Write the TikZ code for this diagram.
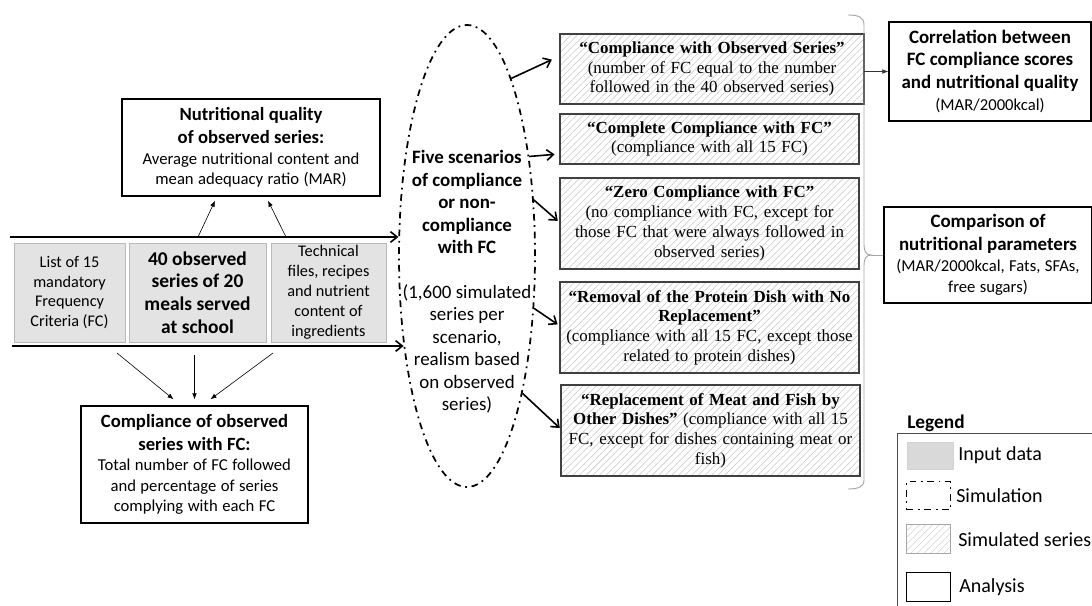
\documentclass[tikz,border=0pt]{standalone}
\usepackage{fontspec}
\setmainfont{Carlito}
\newfontfamily\tnr{Liberation Serif}
\usetikzlibrary{shapes.geometric,arrows.meta,patterns.meta,calc}
\begin{document}
\begin{tikzpicture}[x=0.75pt,y=-0.75pt,
  anabox/.style={draw=black,line width=1.1pt,align=center,inner sep=0pt,fill=white},
  inbox/.style={draw=gray!55,fill=gray!22,line width=0.7pt,align=center,inner sep=0pt,minimum height=74.25pt},
  simbox/.style={draw=black!75,line width=1.1pt,align=center,inner sep=0pt,
    pattern={Lines[angle=45,distance=3.5pt,line width=0.4pt]},pattern color=gray!45,
    font=\tnr\fontsize{12.7}{14.8}\selectfont},
  thickarr/.style={line width=1.2pt,-{Straight Barb[length=5pt,width=8pt]}},
  thinarr/.style={line width=0.45pt,-{Latex[length=4.5pt,width=3.5pt]}},
  simline/.style={line width=1.3pt,dash pattern=on 5pt off 3.5pt on 1.3pt off 3.5pt},
  legtext/.style={font=\fontsize{15}{18}\selectfont,anchor=west,inner sep=0pt},
]
\useasboundingbox (0,0) rectangle (1092,606);

% ---------- analysis: nutritional quality ----------
\node[anabox,minimum width=193.5pt,minimum height=72.75pt,text width=192pt] (nutq) at (251,147.5)
 {{\bfseries\fontsize{14}{17.2}\selectfont Nutritional quality\\of observed series:\par}
  \fontsize{12.5}{15.2}\selectfont Average nutritional content and\\mean adequacy ratio (MAR)\par};

% ---------- input data ----------
\node[inbox,minimum width=83.25pt,font=\fontsize{12.2}{14.8}\selectfont] (in1) at (69.5,292.5)
 {List of 15\\mandatory\\Frequency\\Criteria (FC)};
\node[inbox,minimum width=102.75pt,font=\bfseries\fontsize{14.6}{17}\selectfont] (in2) at (197.5,292.5)
 {40 observed\\series of 20\\meals served\\at school};
\node[inbox,minimum width=86.25pt,font=\fontsize{12.2}{15}\selectfont] (in3) at (328.5,292.5)
 {Technical\\files, recipes\\and nutrient\\content of\\ingredients};

% ---------- compliance of observed series ----------
\node[anabox,minimum width=170.25pt,minimum height=87.75pt,text width=169pt] (comp) at (194.5,464.5)
 {{\bfseries\fontsize{14}{17.2}\selectfont Compliance of observed\\series with FC:\par}
  \fontsize{12.5}{15.4}\selectfont Total number of FC followed\\and percentage of series\\complying with each FC\par};

% ---------- simulation ellipse ----------
\node[ellipse,draw,simline,minimum width=102pt,minimum height=346.5pt,inner sep=0pt] (ell) at (467,256) {};
\node[align=center,font=\bfseries\fontsize{14.2}{16.9}\selectfont,inner sep=0pt] (ellt1) at (467,202)
 {Five scenarios\\of compliance\\or non-\\compliance\\with FC};
\node[align=center,font=\fontsize{14.2}{16.9}\selectfont,inner sep=0pt] (ellt2) at (467,349)
 {(1,600 simulated\\series per\\scenario,\\realism based\\on observed\\series)};

% ---------- simulated series ----------
\node[simbox,minimum width=228pt,minimum height=52.5pt,text width=226pt] (sA) at (712,69)
 {\textbf{“Compliance with Observed Series”}\\(number of FC equal to the number\\followed in the 40 observed series)\par};
\node[simbox,minimum width=224.25pt,minimum height=37.5pt,text width=222pt] (sB) at (709.5,139)
 {\textbf{“Complete Compliance with FC”}\\(compliance with all 15 FC)\par};
\node[simbox,minimum width=224.25pt,minimum height=68.25pt,text width=222pt] (sC) at (709.5,223.5)
 {\textbf{“Zero Compliance with FC”}\\(no compliance with FC, except for\\those FC that were always followed in\\observed series)\par};
\node[simbox,minimum width=224.25pt,minimum height=68.25pt,text width=222pt] (sD) at (709.5,327.5)
 {\textbf{“Removal of the Protein Dish with No\\Replacement”}\\(compliance with all 15 FC, except those\\related to protein dishes)\par};
\node[simbox,minimum width=224.25pt,minimum height=68.25pt,text width=222pt] (sE) at (710.5,430.5)
 {\textbf{“Replacement of Meat and Fish by\\Other Dishes”} (compliance with all 15\\FC, except for dishes containing meat or\\fish)\par};

% ---------- analysis boxes on the right ----------
\node[anabox,minimum width=151.5pt,minimum height=74.25pt,text width=151pt] (corr) at (990,71.5)
 {{\bfseries\fontsize{14.2}{16.9}\selectfont Correlation between\\FC compliance scores\\and nutritional quality\par}
  \fontsize{12.5}{16.9}\selectfont(MAR/2000kcal)\par};
\node[anabox,minimum width=156pt,minimum height=72pt,text width=155pt] (cmpn) at (988,255)
 {{\bfseries\fontsize{14.2}{16.9}\selectfont Comparison of\\nutritional parameters\par}
  \fontsize{12.5}{16}\selectfont(MAR/2000kcal, Fats, SFAs,\\free sugars)\par};

% ---------- brace ----------
\coordinate (bpt) at (871,255);
\coordinate (bcorr) at (864,71.5);
\draw[gray!70,line width=0.7pt] (848,15) .. controls (858,15) and (864,17) .. (864,25)
  -- (864,245) .. controls (864,251) and (866,255) .. (bpt)
  .. controls (866,255) and (864,259) .. (864,265)
  -- (864,480) .. controls (864,487) and (858,489) .. (848,489);
\draw[gray!70,line width=0.7pt] (bpt) -- (cmpn.west);
\draw[thinarr,black!80] (bcorr) -- (corr.west);

% ---------- main horizontal arrows ----------
\coordinate (htop) at (10,237);
\coordinate (hbot) at (12,346);
\draw[thickarr] (htop) -- (htop -| ell.164);
\draw[thickarr] (hbot) -- (hbot -| ell.235);

% ---------- thin arrows ----------
\coordinate (u1) at (198,237);
\coordinate (u2) at (286,237);
\draw[thinarr] (u1) -- ([xshift=-27pt,yshift=-3pt]nutq.south);
\draw[thinarr] (u2) -- ([xshift=12.75pt,yshift=-3pt]nutq.south);
\coordinate (d1) at (117,353);
\coordinate (d2) at (194.5,355);
\coordinate (d3) at (273,353);
\draw[thinarr] (d1) -- ([xshift=-15.75pt,yshift=4.5pt]comp.north);
\draw[thinarr] (d2) -- ([yshift=4.5pt]comp.north);
\draw[thinarr] (d3) -- ([xshift=12pt,yshift=4.5pt]comp.north);

% ---------- ellipse to scenarios ----------
\draw[thickarr,shorten >=6.5pt] (ell.76) -- ([yshift=9.75pt]sA.west);
\draw[thickarr,shorten >=3.5pt] (ell.58) -- ([yshift=-11.25pt]sB.west);
\draw[thickarr,shorten >=1.5pt] (ell.40) -- ([yshift=1pt]sC.west);
\draw[thickarr,shorten >=1.5pt] (ell.-38) -- ([yshift=1.5pt]sD.west);
\draw[thickarr,shorten >=0.5pt] (ell.-68) -- ([yshift=1.5pt]sE.west);

% ---------- legend ----------
\node[font=\bfseries\fontsize{14.5}{17}\selectfont,anchor=west,inner sep=0pt] (legt) at (907,423) {Legend};
\node[draw=black!70,line width=0.7pt,minimum width=165pt,minimum height=145pt,anchor=north west,inner sep=0pt] (legf) at (897,433) {};
\node[fill=gray!30,draw=gray!35,minimum width=34.5pt,minimum height=20.25pt,anchor=north west,inner sep=0pt] (sw1) at (907,442) {};
\node[legtext] (lg1) at (958,455) {Input data};
\node[draw,simline,line width=1.1pt,minimum width=33pt,minimum height=21pt,anchor=north west,inner sep=0pt] (sw2) at (906,481) {};
\node[legtext] (lg2) at (956,495.5) {Simulation};
\node[draw=gray!70,line width=0.7pt,pattern={Lines[angle=45,distance=3.5pt,line width=0.4pt]},pattern color=gray!35,minimum width=33pt,minimum height=21.75pt,anchor=north west,inner sep=0pt] (sw3) at (906,524) {};
\node[legtext] (lg3) at (958,540) {Simulated series};
\node[draw=black,line width=0.9pt,minimum width=33pt,minimum height=21.75pt,anchor=north west,inner sep=0pt] (sw4) at (906,572) {};
\node[legtext] (lg4) at (959,587) {Analysis};
\end{tikzpicture}
\end{document}
